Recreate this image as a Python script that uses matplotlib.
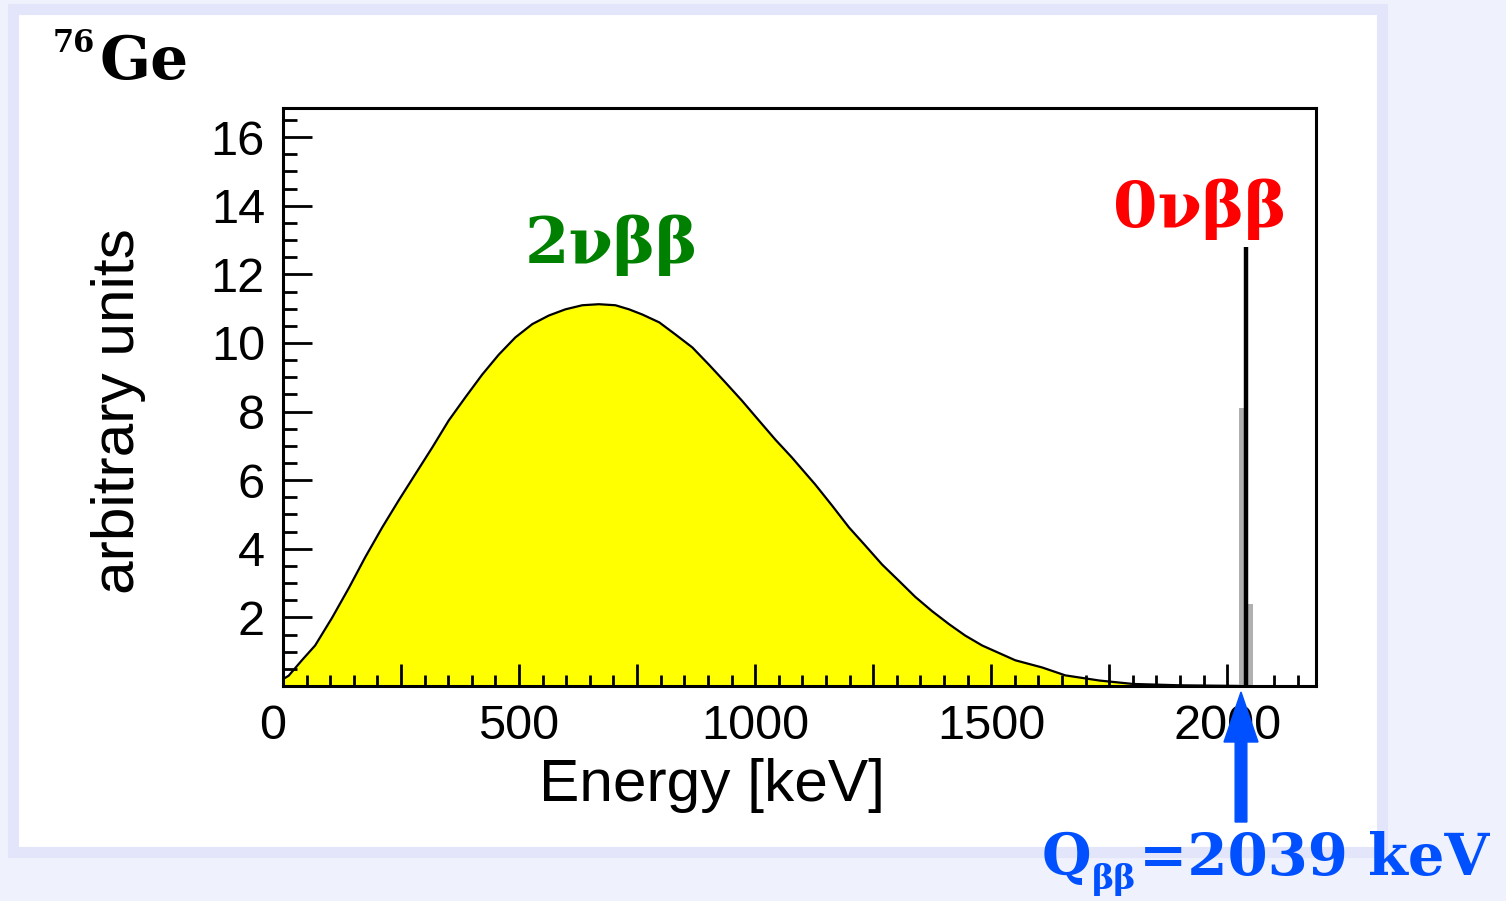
import numpy as np
import matplotlib
matplotlib.use("Agg")
import matplotlib.pyplot as plt
import matplotlib.transforms as mtransforms
from matplotlib.patches import Rectangle, FancyArrow

# ------------------------------------
# Data
# ------------------------------------
# 2 neutrino double beta spectrum of 76Ge
energy = [0, 12, 40, 68, 104, 140, 174, 210, 245, 280, 316, 351, 386, 422,
          457, 492, 528, 549, 563, 598, 634, 669, 704, 733, 761, 797, 831,
          867, 902, 937, 972, 1008, 1043, 1078, 1093, 1127, 1163, 1199, 1233,
          1269, 1305, 1339, 1375, 1411, 1445, 1481, 1551, 1608, 1657, 1729,
          1800, 1900, 2039]
counts = [0.2, 0.3, 0.75, 1.18, 1.99, 2.87, 3.75, 4.62, 5.41, 6.17, 6.95, 7.74,
          8.41, 9.08, 9.66, 10.16, 10.55, 10.7, 10.8, 10.98, 11.1, 11.13, 11.1,
          10.98, 10.83, 10.6, 10.25, 9.87, 9.37, 8.85, 8.32, 7.74, 7.18, 6.66,
          6.42, 5.88, 5.26, 4.62, 4.1, 3.54, 3.06, 2.6, 2.18, 1.8, 1.47, 1.18,
          0.75, 0.54, 0.31, 0.16, 0.06, 0.02, 0.0]

# 0 neutrino peak at Q value (histogram bins around 2039 keV)
peak_energy = [2030, 2039, 2050]
peak_height = [8.1, 12.8, 2.4]

x_ticks = [0, 250, 500, 750, 1000, 1250, 1500, 1750, 2000]
x_labels = ["0", "", "500", "", "1000", "", "1500", "", "2000"]
y_ticks = [2, 4, 6, 8, 10, 12, 14, 16]

W, H = 1506, 901


def fx(x):
    return x / W


def fy(y):
    return 1 - y / H


fig = plt.figure(figsize=(W / 100, H / 100), dpi=100)
fig.patch.set_facecolor("#eff2fc")

# white panel with lavender border
panel = Rectangle((fx(12.5), fy(852)), (1382 - 12.5) / W, (852 - 9) / H,
                  facecolor="white", edgecolor="#e3e5fa", linewidth=8,
                  transform=fig.transFigure, zorder=-5)
fig.add_artist(panel)

ax = fig.add_axes([fx(283), fy(686), (1316 - 283) / W, (686 - 108) / H])
ax.set_facecolor("white")

ax.fill_between(energy, counts, color="#ffff00", zorder=1, linewidth=0)
ax.plot(energy, counts, color="black", lw=1.6, zorder=2)

# 0vbb peak
ax.bar([peak_energy[0], peak_energy[2]], [peak_height[0], peak_height[2]],
       width=10, color="#b0b0b0", zorder=2)
ax.vlines(peak_energy[1], 0, peak_height[1], color="black", lw=3.2, zorder=3)

ax.set_xlim(0, 2188)
ax.set_ylim(0, 16.85)

font = "Liberation Sans"
ax.set_xticks(x_ticks)
ax.set_xticklabels(x_labels, fontsize=35, family=font)
ax.set_xticks(np.arange(0, 2188, 50), minor=True)
ax.set_yticks(y_ticks)
ax.set_yticklabels([str(v) for v in y_ticks], fontsize=35, family=font)
ax.set_yticks(np.arange(0.5, 16.85, 0.5), minor=True)

ax.tick_params(axis="x", which="major", direction="in", length=16, width=2, pad=13)
ax.tick_params(axis="x", which="minor", direction="in", length=8, width=2)
ax.tick_params(axis="y", which="major", direction="in", length=21, width=2, pad=13)
ax.tick_params(axis="y", which="minor", direction="in", length=10, width=2)
for s in ax.spines.values():
    s.set_linewidth(2.2)
    s.set_zorder(4)

# the "0" label sits a little left of its tick in the original
lab0 = ax.get_xticklabels()[0]
lab0.set_transform(lab0.get_transform() +
                   mtransforms.ScaledTranslation(-10 / 100, 0, fig.dpi_scale_trans))

ax.set_xlabel("Energy [keV]", fontsize=43.5, family=font)
ax.xaxis.set_label_coords((712 - 283) / 1033, -0.1246)
ax.set_ylabel("arbitrary units", fontsize=43.5, family=font)
ax.yaxis.set_label_coords((146 - 283) / 1033, (686 - 411) / 578)

serif = "DejaVu Serif"
fig.text(fx(53), fy(52), "76", fontsize=22, fontweight="bold", family=serif,
         ha="left", va="baseline")
fig.text(fx(99), fy(79), "Ge", fontsize=43, fontweight="bold", family=serif,
         ha="left", va="baseline")

fig.text(fx(611), fy(263), "2νββ", fontsize=46, fontweight="bold", family=serif,
         color="#008000", ha="center", va="baseline")
fig.text(fx(1200), fy(227), "0νββ", fontsize=46, fontweight="bold", family=serif,
         color="#ff0000", ha="center", va="baseline")

blue = "#0050ff"
fig.text(fx(1042), fy(875), "Q", fontsize=41, fontweight="bold", family=serif,
         color=blue, ha="left", va="baseline")
fig.text(fx(1092), fy(889), "ββ", fontsize=24, fontweight="bold", family=serif,
         color=blue, ha="left", va="baseline")
fig.text(fx(1139), fy(875), "=2039 keV", fontsize=41.5, fontweight="bold",
         family=serif, color=blue, ha="left", va="baseline")

# arrow pointing at Q value
arrow = FancyArrow(fx(1241), fy(822), 0, (822 - 692) / H, width=7 / H,
                   head_width=34 / W, head_length=50 / H,
                   length_includes_head=True, color=blue,
                   transform=fig.transFigure, zorder=10)
fig.add_artist(arrow)

fig.savefig("out.png", dpi=100, facecolor=fig.get_facecolor())
